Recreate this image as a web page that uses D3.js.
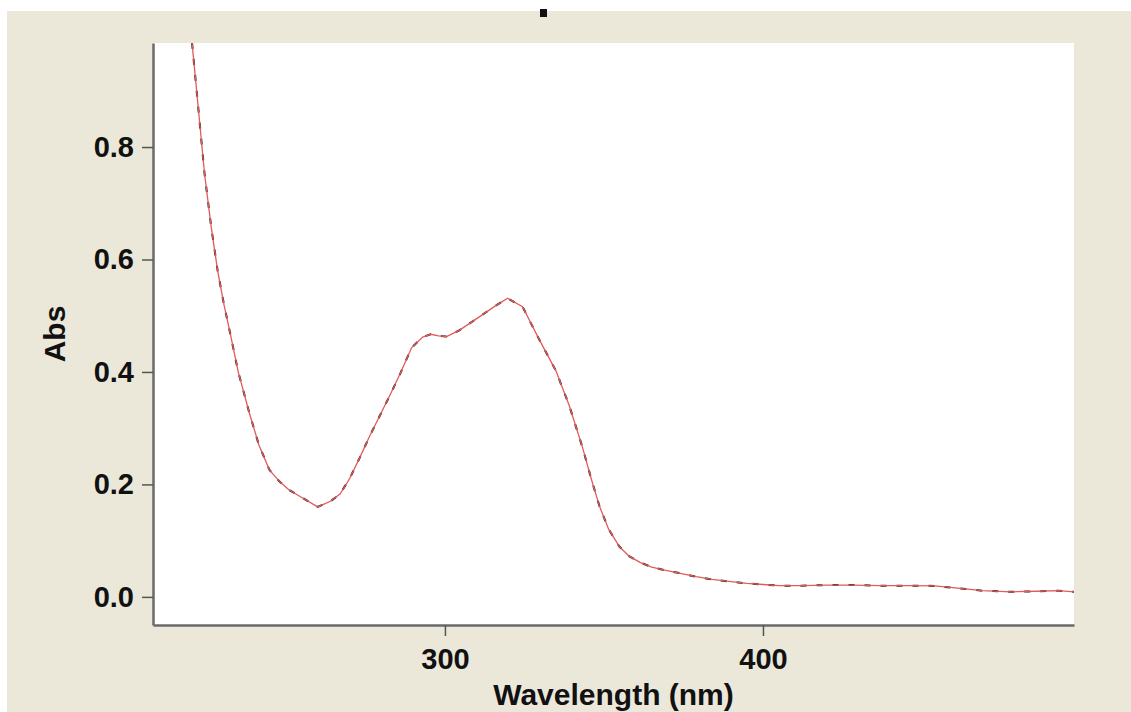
<!DOCTYPE html>
<html>
<head>
<meta charset="utf-8">
<script src="https://cdn.jsdelivr.net/npm/d3@7"></script>
<style>
  html, body { margin: 0; padding: 0; background: #fff; }
  svg { display: block; }
  .tick text { font-family: "Liberation Sans", Arial, sans-serif; font-weight: bold; fill: #111; }
</style>
</head>
<body>
<svg width="1131" height="712"></svg>
<script>
// spectrum
var wavelength = [219, 220.5, 222.8, 224.4, 226.5, 228.5, 230.5, 232.5, 235, 238.5, 241.5, 244.8, 248, 251, 255.5,
    260, 264, 267, 270, 273, 276, 279.5, 283, 286, 289.5, 293, 295.5, 298, 300.5, 304.5, 310.8, 316, 319.7,
    324.4, 329.7, 334.9, 339.1, 343.3, 346, 348.6, 351.5, 354.9, 358, 361.5, 365, 369.5, 374, 379, 384,
    390, 395, 400, 405, 412, 420, 428, 437, 445, 454, 462, 469, 478, 486, 493, 498];
var absorbance = [1.07, 0.984, 0.848, 0.753, 0.658, 0.581, 0.52, 0.468, 0.40, 0.327, 0.27, 0.226, 0.205, 0.190, 0.175,
    0.160, 0.170, 0.183, 0.21, 0.245, 0.282, 0.322, 0.362, 0.398, 0.443, 0.462, 0.467, 0.464, 0.463, 0.474, 0.498, 0.518, 0.531,
    0.516, 0.457, 0.402, 0.340, 0.265, 0.21, 0.161, 0.12, 0.089, 0.072, 0.061, 0.053, 0.047, 0.042, 0.036, 0.031,
    0.027, 0.024, 0.022, 0.020, 0.020, 0.021, 0.021, 0.020, 0.020, 0.0195, 0.015, 0.011, 0.009, 0.010, 0.011, 0.009];
var xTicks = [300, 400];
var yTicks = [0.0, 0.2, 0.4, 0.6, 0.8];

function drawSpectrum() {
    var data = wavelength.map(function(w, i) { return {w: w, a: absorbance[i]}; });

    var svg = d3.select("svg");
    var pLeft = 153, pRight = 1074, pTop = 43, pBottom = 625;

    // beige frame, white strips on top and left
    svg.append("rect").attr("x", 7).attr("y", 11).attr("width", 1124).attr("height", 701).attr("fill", "#ebe8da");
    svg.append("rect").attr("x", pLeft).attr("y", pTop).attr("width", pRight - pLeft).attr("height", pBottom - pTop).attr("fill", "#fff");

    // bit of cut-off title
    svg.append("rect").attr("x", 540).attr("y", 9).attr("width", 7).attr("height", 8).attr("fill", "#111");

    var x = d3.scaleLinear().domain([208.2, 497.8]).range([pLeft, pRight]);
    var y = d3.scaleLinear().domain([-0.05, 0.985]).range([pBottom, pTop]);

    svg.append("clipPath").attr("id", "clip")
       .append("rect").attr("x", pLeft).attr("y", pTop).attr("width", pRight - pLeft).attr("height", pBottom - pTop);

    var line = d3.line().x(function(d) { return x(d.w); }).y(function(d) { return y(d.a); });

    // black trace underneath, red trace on top
    svg.append("path").datum(data)
       .attr("clip-path", "url(#clip)")
       .attr("d", line).attr("fill", "none")
       .attr("stroke", "#222").attr("stroke-width", 2).attr("stroke-dasharray", "6,10");
    svg.append("path").datum(data)
       .attr("clip-path", "url(#clip)")
       .attr("d", line).attr("fill", "none")
       .attr("stroke", "#e25a5a").attr("stroke-width", 1.3);

    var xAxis = svg.append("g").attr("transform", "translate(0," + pBottom + ")")
       .call(d3.axisBottom(x).tickValues(xTicks).tickSize(11).tickPadding(12).tickSizeOuter(0).tickFormat(d3.format("d")));
    var yAxis = svg.append("g").attr("transform", "translate(" + pLeft + ",0)")
       .call(d3.axisLeft(y).tickValues(yTicks).tickSize(11).tickPadding(8).tickSizeOuter(0).tickFormat(d3.format(".1f")));

    [xAxis, yAxis].forEach(function(ax) {
        ax.select(".domain").attr("stroke", "#6a6a6a").attr("stroke-width", 2.5);
        ax.selectAll(".tick line").attr("stroke", "#555").attr("stroke-width", 1.5);
        ax.selectAll(".tick text").style("font-size", "29px");
    });

    svg.append("text")
       .attr("x", (pLeft + pRight) / 2).attr("y", 705)
       .attr("text-anchor", "middle")
       .style("font-family", "Liberation Sans, Arial, sans-serif").style("font-weight", "bold").style("font-size", "30px")
       .attr("fill", "#111")
       .text("Wavelength (nm)");

    svg.append("text")
       .attr("transform", "translate(65," + (pTop + pBottom) / 2 + ") rotate(-90)")
       .attr("text-anchor", "middle")
       .style("font-family", "Liberation Sans, Arial, sans-serif").style("font-weight", "bold").style("font-size", "30px")
       .attr("fill", "#111")
       .text("Abs");
}

drawSpectrum();
</script>
</body>
</html>
